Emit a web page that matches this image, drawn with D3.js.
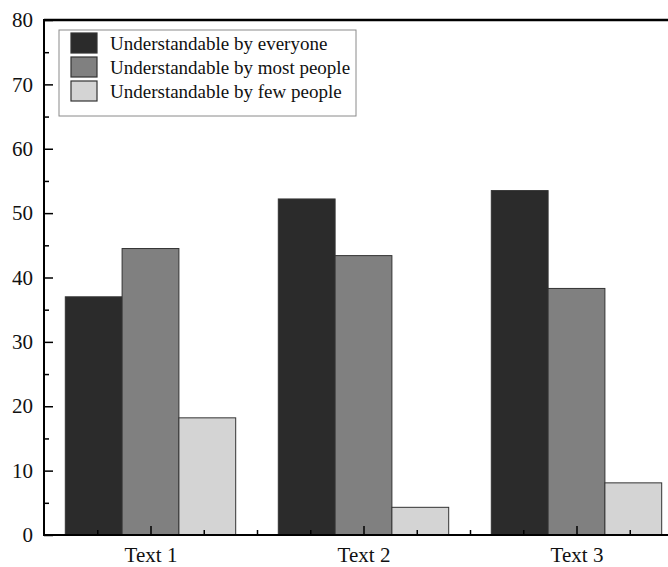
<!DOCTYPE html>
<html>
<head>
<meta charset="utf-8">
<script src="https://cdn.jsdelivr.net/npm/d3@7/dist/d3.min.js"></script>
<style>
  html, body { margin: 0; padding: 0; background: #fff; }
  svg { display: block; }
  text { font-family: "Liberation Serif", "Times New Roman", serif; fill: #111; }
</style>
</head>
<body>
<svg id="chart" width="668" height="567"></svg>
<script>
// Category labels and series values (percent)
const categories = ["Text 1", "Text 2", "Text 3"];
const seriesNames = [
  "Understandable by everyone",
  "Understandable by most people",
  "Understandable by few people"
];
const everyone = [37.0, 52.2, 53.5];
const most = [44.5, 43.4, 38.3];
const few = [18.2, 4.3, 8.1];
const yTicks = [0, 10, 20, 30, 40, 50, 60, 70, 80];

const series = [everyone, most, few];
const fills = ["#2b2b2b", "#808080", "#d4d4d4"];

const svg = d3.select("#chart");
const plotLeft = 44, plotTop = 20, plotBottom = 535;
const unit = 213;

// Categories sit at positions 1..3, axis spans 0.5..3.5
const x = d3.scaleLinear().domain([0.5, 3.5]).range([plotLeft, plotLeft + 3 * unit]);
const y = d3.scaleLinear().domain([0, 80]).range([plotBottom, plotTop]);

const groupWidth = 0.8;
const barW = groupWidth / series.length;

// Bars
series.forEach((vals, si) => {
  svg.append("g")
    .selectAll("rect")
    .data(vals)
    .join("rect")
    .attr("x", (d, i) => x(i + 1 - groupWidth / 2 + si * barW))
    .attr("width", x(barW) - x(0))
    .attr("y", d => y(d))
    .attr("height", d => y(0) - y(d))
    .attr("fill", fills[si])
    .attr("stroke", "#333")
    .attr("stroke-width", 1);
});

// Y axis: major ticks at 10s, minor at 5s, pointing inward
const yMinor = d3.range(5, 80, 10);
svg.append("g")
  .attr("transform", `translate(${plotLeft},0)`)
  .call(d3.axisRight(y).tickValues(yMinor).tickSize(5).tickFormat(""))
  .call(g => g.select(".domain").remove())
  .call(g => g.selectAll("line").attr("stroke", "#000").attr("stroke-width", 1.5));

svg.append("g")
  .attr("transform", `translate(${plotLeft},0)`)
  .call(d3.axisLeft(y).tickValues(yTicks).tickSize(-9).tickPadding(11))
  .call(g => g.select(".domain").remove())
  .call(g => g.selectAll("line").attr("stroke", "#000").attr("stroke-width", 1.5))
  .call(g => g.selectAll("text").style("font-size", "21px")
    .style("font-family", "'Liberation Serif', serif").attr("fill", "#111"));

// X axis: major ticks at categories, minor at quarter steps
const xMinor = d3.range(0.75, 3.5, 0.25).filter(v => Math.abs(v - Math.round(v)) > 1e-6);
svg.append("g")
  .attr("transform", `translate(0,${plotBottom})`)
  .call(d3.axisTop(x).tickValues(xMinor).tickSize(5).tickFormat(""))
  .call(g => g.select(".domain").remove())
  .call(g => g.selectAll("line").attr("stroke", "#000").attr("stroke-width", 1.5));

svg.append("g")
  .attr("transform", `translate(0,${plotBottom})`)
  .call(d3.axisBottom(x).tickValues([1, 2, 3]).tickSize(-9).tickPadding(12)
    .tickFormat((d, i) => categories[i]))
  .call(g => g.select(".domain").remove())
  .call(g => g.selectAll("line").attr("stroke", "#000").attr("stroke-width", 1.5))
  .call(g => g.selectAll("text").style("font-size", "21px")
    .style("font-family", "'Liberation Serif', serif").attr("fill", "#111"));

// Frame lines
svg.append("line").attr("x1", plotLeft).attr("x2", 668).attr("y1", plotBottom).attr("y2", plotBottom)
  .attr("stroke", "#000").attr("stroke-width", 2);
svg.append("line").attr("x1", plotLeft).attr("x2", 668).attr("y1", plotTop).attr("y2", plotTop)
  .attr("stroke", "#000").attr("stroke-width", 2.5);
svg.append("line").attr("x1", plotLeft).attr("x2", plotLeft).attr("y1", plotTop - 1).attr("y2", plotBottom + 1)
  .attr("stroke", "#000").attr("stroke-width", 2);

// Legend
const lg = svg.append("g").attr("transform", "translate(59,30)");
lg.append("rect").attr("width", 297).attr("height", 86)
  .attr("fill", "#fff").attr("stroke", "#8a8a8a").attr("stroke-width", 1);
seriesNames.forEach((name, i) => {
  lg.append("rect")
    .attr("x", 12).attr("y", 3 + i * 24)
    .attr("width", 26).attr("height", 20)
    .attr("fill", fills[i]).attr("stroke", "#333").attr("stroke-width", 1.2);
  lg.append("text")
    .attr("x", 51).attr("y", 13 + i * 24)
    .attr("dy", "0.35em")
    .style("font-size", "19px")
    .text(name);
});
</script>
</body>
</html>
